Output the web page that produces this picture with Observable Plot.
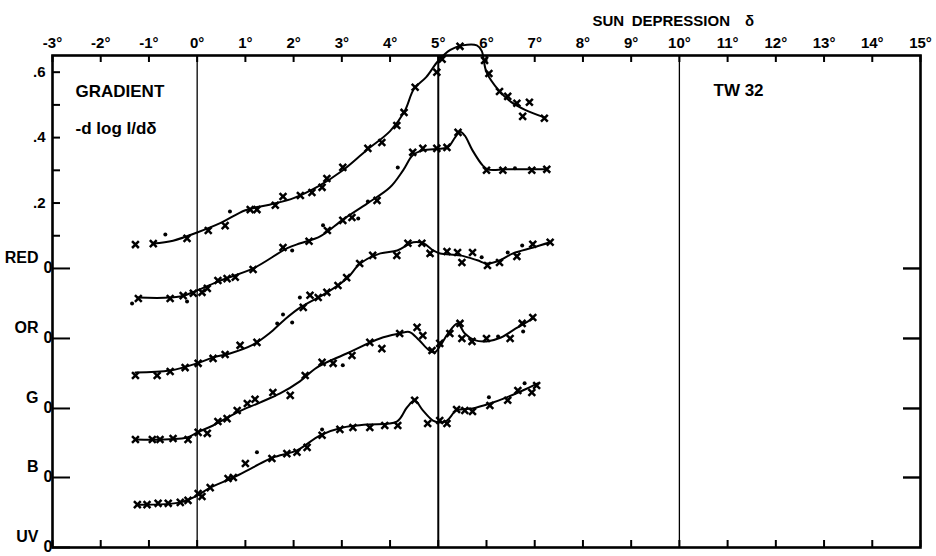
<!DOCTYPE html>
<html><head><meta charset="utf-8">
<script src="https://cdn.jsdelivr.net/npm/d3@7"></script>
<script src="https://cdn.jsdelivr.net/npm/@observablehq/plot@0.6"></script>
<style>
body{margin:0;background:#fff;}
#chart svg{display:block;}
</style></head><body><div id="chart"></div>
<script>
// ---- data ----
const channels = ["RED", "OR", "G", "B", "UV"];
const baselines = [0, -0.214, -0.428, -0.639, -0.853];

const xTickValues = [-3,-2,-1,0,1,2,3,4,5,6,7,8,9,10,11,12,13,14,15];
const xTickLabels = ["-3°","-2°","-1°","0°","1°","2°","3°","4°","5°","6°","7°","8°","9°","10°","11°","12°","13°","14°","15°"];
const yMinorTicks = [0.1, 0.2, 0.3, 0.4, 0.5, 0.6];
const yLabelValues = [0.6, 0.4, 0.2];
const yLabelText = [".6", ".4", ".2"];
const refLines = [0, 10];
const boldRefLines = [5];

const redCurve = [[-0.91,0.076],[-0.5,0.085],[0,0.11],[0.5,0.14],[1.0,0.178],[1.5,0.195],[2.0,0.215],[2.5,0.25],[3.0,0.298],[3.5,0.36],[4.0,0.42],[4.3,0.48],[4.5,0.55],[4.75,0.585],[5.0,0.635],[5.25,0.668],[5.5,0.682],[5.8,0.682],[5.9,0.665],[6.0,0.60],[6.25,0.545],[6.5,0.51],[6.8,0.485],[7.2,0.462]];
const orCurve = [[-1.24,0.125],[-0.35,0.128],[0,0.147],[0.48,0.177],[1.16,0.214],[1.87,0.276],[2.14,0.291],[2.55,0.312],[3.03,0.364],[3.53,0.413],[4.0,0.462],[4.27,0.514],[4.47,0.56],[4.68,0.575],[5.03,0.58],[5.2,0.585],[5.35,0.615],[5.45,0.632],[5.55,0.62],[5.71,0.575],[5.92,0.529],[6.02,0.517],[6.42,0.517],[7.25,0.517]];
const gCurve = [[-1.28,0.11],[-0.56,0.116],[0,0.138],[0.33,0.156],[0.68,0.168],[1.16,0.195],[1.5,0.23],[1.8,0.27],[2.14,0.309],[2.7,0.355],[3.11,0.398],[3.38,0.443],[3.8,0.474],[4.15,0.483],[4.48,0.508],[4.69,0.505],[4.9,0.483],[5.04,0.474],[5.45,0.468],[5.81,0.453],[6.01,0.443],[6.28,0.453],[6.55,0.474],[6.97,0.492],[7.32,0.508]];
const bCurve = [[-1.28,0.116],[-0.21,0.122],[0,0.138],[0.33,0.159],[0.83,0.199],[1.3,0.229],[1.72,0.257],[2.13,0.294],[2.48,0.336],[3.1,0.379],[3.79,0.425],[4.2,0.44],[4.4,0.445],[4.6,0.42],[4.8,0.39],[4.92,0.382],[5.05,0.405],[5.2,0.44],[5.4,0.471],[5.55,0.44],[5.75,0.42],[6.0,0.416],[6.3,0.428],[6.6,0.455],[6.96,0.486]];
const uvCurve = [[-1.22,0.131],[-0.35,0.138],[0,0.159],[0.27,0.183],[0.75,0.214],[1.16,0.245],[1.57,0.275],[2.07,0.297],[2.55,0.343],[3.02,0.367],[3.52,0.376],[4.14,0.385],[4.35,0.428],[4.51,0.449],[4.68,0.419],[4.89,0.388],[5.03,0.382],[5.18,0.388],[5.38,0.419],[5.71,0.425],[6.07,0.44],[6.42,0.459],[6.75,0.48],[7.06,0.502]];

const redCrosses = [[-1.28,0.073],[-0.91,0.076],[-0.21,0.092],[0.23,0.116],[0.58,0.131],[1.1,0.18],[1.24,0.18],[1.62,0.193],[1.78,0.22],[2.14,0.223],[2.38,0.232],[2.59,0.248],[2.69,0.275],[3.02,0.309],[3.54,0.367],[3.83,0.385],[4.14,0.437],[4.29,0.477],[4.52,0.554],[4.97,0.6],[5.08,0.64],[5.45,0.679],[5.96,0.636],[6.05,0.596],[6.27,0.541],[6.44,0.526],[6.63,0.505],[6.89,0.508],[6.75,0.465],[7.2,0.459]];
const redDots = [[-0.66,0.104],[0.68,0.174]];
const orCrosses = [[-1.22,0.122],[-0.56,0.122],[-0.29,0.131],[-0.08,0.138],[0.1,0.141],[0.21,0.153],[0.43,0.177],[0.62,0.183],[0.79,0.187],[1.16,0.211],[1.78,0.278],[2.32,0.297],[2.7,0.33],[3.02,0.361],[3.21,0.37],[3.73,0.422],[4.47,0.569],[4.68,0.581],[4.97,0.581],[5.18,0.584],[5.41,0.63],[6.0,0.514],[6.34,0.514],[6.94,0.514],[7.25,0.517]];
const orDots = [[-1.35,0.107],[-0.21,0.113],[1.97,0.269],[2.61,0.346],[3.34,0.367],[3.54,0.419],[4.16,0.523],[6.59,0.52]];
const gCrosses = [[-1.28,0.101],[-0.83,0.101],[-0.56,0.113],[-0.25,0.125],[0.02,0.138],[0.33,0.153],[0.58,0.165],[0.89,0.193],[1.24,0.202],[2.2,0.309],[2.34,0.346],[2.51,0.339],[2.69,0.355],[2.92,0.376],[3.1,0.4],[3.37,0.443],[3.64,0.468],[4.14,0.468],[4.37,0.505],[4.66,0.505],[4.83,0.474],[5.18,0.48],[5.4,0.477],[5.49,0.446],[5.71,0.477],[6.02,0.437],[6.27,0.446],[6.63,0.465],[6.96,0.502],[7.32,0.508]];
const gDots = [[1.66,0.26],[1.78,0.287],[1.97,0.263],[2.13,0.339],[5.9,0.462],[6.44,0.477],[6.74,0.498]];
const bCrosses = [[-1.28,0.116],[-0.93,0.116],[-0.77,0.116],[-0.5,0.119],[-0.19,0.116],[0.02,0.138],[0.21,0.135],[0.43,0.171],[0.62,0.18],[0.83,0.205],[1.04,0.226],[1.2,0.239],[1.57,0.26],[1.93,0.251],[2.24,0.312],[2.59,0.352],[2.82,0.349],[3.21,0.373],[3.58,0.413],[3.83,0.394],[4.2,0.44],[4.56,0.459],[4.68,0.434],[4.87,0.388],[5.03,0.41],[5.24,0.44],[5.45,0.471],[5.49,0.425],[5.7,0.416],[6.0,0.425],[6.49,0.425],[6.74,0.471],[6.96,0.489]];
const bDots = [[3.02,0.343],[6.24,0.431],[6.76,0.446]];
const uvCrosses = [[-1.24,0.131],[-1.04,0.131],[-0.81,0.135],[-0.6,0.135],[-0.35,0.138],[-0.19,0.144],[0.02,0.165],[0.1,0.156],[0.27,0.183],[0.64,0.211],[0.75,0.214],[1.0,0.257],[1.55,0.272],[1.86,0.287],[2.07,0.291],[2.28,0.306],[2.59,0.343],[2.96,0.361],[3.23,0.367],[3.58,0.367],[3.89,0.373],[4.16,0.373],[4.51,0.45],[4.78,0.379],[5.03,0.388],[5.18,0.379],[5.38,0.422],[5.55,0.419],[5.71,0.416],[6.07,0.434],[6.44,0.45],[6.65,0.48],[6.94,0.474],[7.04,0.495]];
const uvDots = [[1.24,0.291],[2.59,0.361],[6.05,0.459],[6.79,0.502]];

// ---- tables ----
const curves = [redCurve, orCurve, gCurve, bCurve, uvCurve];
const crosses = [redCrosses, orCrosses, gCrosses, bCrosses, uvCrosses];
const dots = [redDots, orDots, gDots, bDots, uvDots];
const toRows = (sets) => sets.flatMap((pts, i) => pts.map(([x, v]) => ({x, y: v + baselines[i], ch: channels[i]})));
const curveRows = toRows(curves);
const crossRows = toRows(crosses);
const dotRows = toRows(dots);
const chanRows = channels.map((c, i) => ({ch: c, y: baselines[i]}));

const FONT = "'Liberation Sans', Arial, sans-serif";
const frameW = 936 - 52 - 16, frameH = 556 - 55 - 9;
const T = {fontWeight: "bold", fontFamily: FONT, fill: "#000", lineAnchor: "middle"};

const chart = Plot.plot({
  width: 936, height: 556,
  marginLeft: 52, marginRight: 16, marginTop: 55, marginBottom: 9,
  x: {domain: [-3, 15], axis: null},
  y: {domain: [-0.853, 0.651], axis: null},
  style: {background: "#fff", color: "#000", fontFamily: FONT, fontWeight: "bold", overflow: "visible"},
  marks: [
    Plot.ruleX(refLines, {x: d => d, stroke: "#000", strokeWidth: 1.3}),
    Plot.ruleX(boldRefLines, {x: d => d, stroke: "#000", strokeWidth: 2}),
    Plot.frame({stroke: "#000", strokeWidth: 2.6}),
    // inward ticks
    Plot.tickX(xTickValues, {x: d => d, insetBottom: frameH - 7, stroke: "#000", strokeWidth: 2}),
    Plot.tickX(xTickValues, {x: d => d, insetTop: frameH - 7, stroke: "#000", strokeWidth: 2}),
    Plot.tickY(yMinorTicks, {y: d => d, insetRight: frameW - 8, stroke: "#000", strokeWidth: 2}),
    Plot.tickY(chanRows, {y: "y", insetRight: frameW - 18, stroke: "#000", strokeWidth: 2}),
    Plot.tickY(chanRows.slice(0, 4), {y: "y", insetLeft: frameW - 17, stroke: "#000", strokeWidth: 2.4}),
    // data
    Plot.line(curveRows, {x: "x", y: "y", z: "ch", curve: "catmull-rom", stroke: "#000", strokeWidth: 2}),
    Plot.dot(crossRows, {x: "x", y: "y", symbol: "times", r: 3.2, stroke: "#000", strokeWidth: 2.5}),
    Plot.dot(dotRows, {x: "x", y: "y", r: 2, fill: "#000", stroke: null}),
    // axis labels
    Plot.text(xTickValues, {x: d => d, frameAnchor: "top", dy: -12, text: (d, i) => xTickLabels[i], fontSize: 15, ...T}),
    Plot.text(yLabelValues, {y: d => d, frameAnchor: "left", dx: -7, textAnchor: "end", text: (d, i) => yLabelText[i], fontSize: 15, ...T}),
    Plot.text(chanRows, {y: "y", frameAnchor: "left", dx: -14, dy: -11, textAnchor: "end", text: "ch", fontSize: 16, ...T}),
    Plot.text(chanRows, {y: "y", frameAnchor: "left", dx: -9, dy: -1, text: () => "0", fontSize: 16, ...T}),
    // annotations
    Plot.text(["SUN\u2002DEPRESSION\u2002\u2002δ"], {frameAnchor: "top-left", dx: 540, dy: -34, textAnchor: "start", text: d => d, fontSize: 15, ...T}),
    Plot.text(["GRADIENT"], {frameAnchor: "top-left", dx: 23, dy: 36, textAnchor: "start", text: d => d, fontSize: 17, ...T}),
    Plot.text(["-d log I/dδ"], {frameAnchor: "top-left", dx: 23, dy: 73, textAnchor: "start", text: d => d, fontSize: 17, ...T}),
    Plot.text(["TW 32"], {frameAnchor: "top-left", dx: 661, dy: 35, textAnchor: "start", text: d => d, fontSize: 17, ...T})
  ]
});
document.getElementById("chart").append(chart);
</script></body></html>
